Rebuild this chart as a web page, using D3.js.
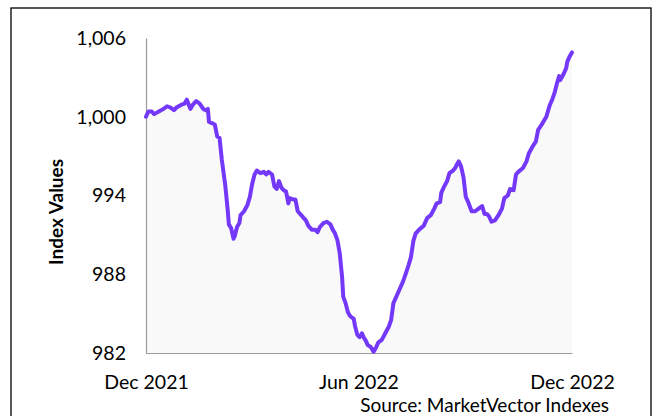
<!DOCTYPE html>
<html>
<head>
<meta charset="utf-8">
<script src="https://cdn.jsdelivr.net/npm/d3@7"></script>
<style>
  html, body { margin: 0; padding: 0; background: #ffffff; }
  svg { display: block; }
</style>
</head>
<body>
<svg id="chart" width="659" height="416"></svg>
<script>
const dates = [
  "2021-12-01","2021-12-03","2021-12-06","2021-12-08","2021-12-12","2021-12-16","2021-12-19","2021-12-22","2021-12-25","2021-12-27",
  "2021-12-31","2022-01-03","2022-01-05","2022-01-08","2022-01-10","2022-01-13","2022-01-16","2022-01-19","2022-01-21","2022-01-23",
  "2022-01-24","2022-01-27","2022-01-29","2022-01-31","2022-02-02","2022-02-04","2022-02-07","2022-02-09","2022-02-10","2022-02-12",
  "2022-02-14","2022-02-15","2022-02-17","2022-02-19","2022-02-20","2022-02-23","2022-02-26","2022-02-28","2022-03-02","2022-03-04",
  "2022-03-06","2022-03-09","2022-03-12","2022-03-14","2022-03-16","2022-03-19","2022-03-21","2022-03-23","2022-03-25","2022-03-27",
  "2022-03-29","2022-03-31","2022-04-02","2022-04-03","2022-04-06","2022-04-08","2022-04-10","2022-04-13","2022-04-15","2022-04-17",
  "2022-04-19","2022-04-22","2022-04-25","2022-04-27","2022-04-29","2022-05-02","2022-05-05","2022-05-08","2022-05-10","2022-05-12",
  "2022-05-14","2022-05-16","2022-05-18","2022-05-19","2022-05-21","2022-05-23","2022-05-25","2022-05-28","2022-05-29","2022-05-31",
  "2022-06-02","2022-06-04","2022-06-06","2022-06-07","2022-06-09","2022-06-11","2022-06-12","2022-06-14","2022-06-16","2022-06-18",
  "2022-06-21","2022-06-24","2022-06-27","2022-06-29","2022-07-01","2022-07-03","2022-07-06","2022-07-09","2022-07-11","2022-07-14",
  "2022-07-16","2022-07-18","2022-07-20","2022-07-23","2022-07-27","2022-07-30","2022-08-02","2022-08-05","2022-08-07","2022-08-10",
  "2022-08-11","2022-08-13","2022-08-16","2022-08-18","2022-08-21","2022-08-23","2022-08-24","2022-08-26","2022-08-28","2022-08-30",
  "2022-09-01","2022-09-03","2022-09-06","2022-09-09","2022-09-12","2022-09-15","2022-09-17","2022-09-19","2022-09-21","2022-09-23",
  "2022-09-26","2022-09-29","2022-10-02","2022-10-04","2022-10-07","2022-10-09","2022-10-12","2022-10-14","2022-10-16","2022-10-20",
  "2022-10-23","2022-10-25","2022-10-28","2022-10-31","2022-11-02","2022-11-05","2022-11-09","2022-11-12","2022-11-14","2022-11-16",
  "2022-11-18","2022-11-20","2022-11-21","2022-11-24","2022-11-26","2022-11-27","2022-11-29","2022-12-01"
];
const indexValues = [
  1000.0,1000.4,1000.4,1000.2,1000.4,1000.6,1000.8,1000.7,1000.5,1000.7,
  1000.9,1001.0,1001.3,1000.6,1000.9,1001.2,1001.0,1000.6,1000.5,1000.6,
  999.6,999.5,999.4,998.5,998.4,996.7,994.7,992.9,991.8,991.5,
  990.7,990.9,991.6,991.9,992.5,992.8,993.3,993.9,994.9,995.6,
  995.9,995.7,995.8,995.6,995.8,995.6,994.7,994.5,995.1,994.6,
  994.4,994.3,993.4,993.8,993.7,993.7,992.8,992.5,992.3,992.1,
  991.7,991.4,991.4,991.2,991.6,991.9,992.0,991.8,991.4,991.1,
  990.6,989.6,987.8,986.3,985.8,985.1,984.8,984.6,984.1,983.4,
  983.2,983.5,983.1,983.0,982.6,982.5,982.4,982.1,982.4,982.8,
  983.0,983.5,984.0,984.5,985.8,986.2,986.8,987.4,987.9,988.7,
  989.3,990.5,991.1,991.4,991.7,992.3,992.5,993.0,993.4,993.5,
  994.2,994.6,995.1,995.7,995.9,996.1,996.3,996.6,996.2,995.4,
  993.9,993.5,992.8,992.8,993.0,993.2,992.6,992.6,992.4,992.0,
  992.1,992.5,993.0,993.8,994.0,994.5,994.4,995.6,995.8,996.1,
  996.6,997.2,997.7,998.1,999.0,999.4,1000.0,1000.9,1001.3,1001.8,
  1002.5,1003.1,1002.8,1003.3,1003.7,1004.2,1004.6,1004.9
];
const yTicks = [982, 988, 994, 1000, 1006];
const xTickDates = ["2021-12-01", "2022-06-01", "2022-12-01"];
const xTickLabels = ["Dec 2021", "Jun 2022", "Dec 2022"];
const yTitle = "Index Values";
const sourceText = "Source: MarketVector Indexes";

const parse = d3.timeParse("%Y-%m-%d");
const data = dates.map((d, i) => ({ date: parse(d), value: indexValues[i] }));

const svg = d3.select("#chart");
const FONT = "Lato, 'Open Sans', sans-serif";
const plotLeft = 146, plotRight = 572, plotTop = 38, plotBottom = 353;

// outer frame
svg.append("rect")
  .attr("x", 11).attr("y", 8)
  .attr("width", 640).attr("height", 420)
  .attr("fill", "none").attr("stroke", "#000").attr("stroke-width", 1.3);

const x = d3.scaleTime()
  .domain([parse(xTickDates[0]), parse(xTickDates[2])])
  .range([plotLeft, plotRight]);
const y = d3.scaleLinear()
  .domain([982, 1006])
  .range([plotBottom, plotTop]);

// area
const area = d3.area()
  .x(d => x(d.date))
  .y0(plotBottom)
  .y1(d => y(d.value));
svg.append("path").datum(data)
  .attr("d", area)
  .attr("fill", "#f9f9f9");

// axes
const yAxis = d3.axisLeft(y).tickValues(yTicks).tickSize(0).tickPadding(20)
  .tickFormat(d3.format(","));
const gy = svg.append("g").attr("transform", `translate(${plotLeft},0)`).call(yAxis);
gy.select(".domain").attr("stroke", "#9a9a9a").attr("stroke-width", 1.2);
gy.selectAll("text").attr("font-family", FONT).attr("font-size", "19.5px").attr("fill", "#000");

const xAxis = d3.axisBottom(x).tickValues(xTickDates.map(parse)).tickSize(0).tickPadding(22)
  .tickFormat((d, i) => xTickLabels[i]);
const gx = svg.append("g").attr("transform", `translate(0,${plotBottom})`).call(xAxis);
gx.select(".domain").attr("stroke", "#9a9a9a").attr("stroke-width", 1.2);
gx.selectAll("text").attr("font-family", FONT).attr("font-size", "19.5px").attr("fill", "#000");

// line
const line = d3.line()
  .x(d => x(d.date))
  .y(d => y(d.value));
svg.append("path").datum(data)
  .attr("d", line)
  .attr("fill", "none")
  .attr("stroke", "#7438f8")
  .attr("stroke-width", 4)
  .attr("stroke-linejoin", "round")
  .attr("stroke-linecap", "round");

// y title
svg.append("text")
  .attr("transform", "translate(63,212) rotate(-90)")
  .attr("text-anchor", "middle")
  .attr("font-family", FONT)
  .attr("font-weight", "bold")
  .attr("font-size", "19px")
  .attr("fill", "#000")
  .text(yTitle);

// source
svg.append("text")
  .attr("x", 609).attr("y", 412)
  .attr("text-anchor", "end")
  .attr("font-family", FONT)
  .attr("font-size", "19px")
  .attr("fill", "#000")
  .text(sourceText);
</script>
</body>
</html>
